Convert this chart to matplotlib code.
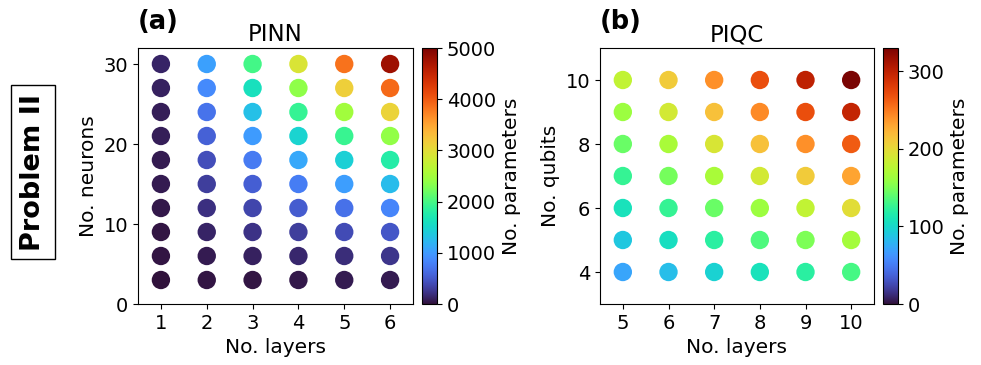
import numpy as np
import matplotlib
matplotlib.use("Agg")
import matplotlib.pyplot as plt

# PINN grid: layers x neurons, colour = number of parameters
pinn_layers = [1, 2, 3, 4, 5, 6]
pinn_neurons = [3, 6, 9, 12, 15, 18, 21, 24, 27, 30]
# rows follow pinn_neurons, columns follow pinn_layers
pinn_params = [
    [13, 25, 37, 49, 61, 73],
    [25, 67, 109, 151, 193, 235],
    [37, 127, 217, 307, 397, 487],
    [49, 205, 361, 517, 673, 829],
    [61, 301, 541, 781, 1021, 1261],
    [73, 415, 757, 1099, 1441, 1783],
    [85, 547, 1009, 1471, 1933, 2395],
    [97, 697, 1297, 1897, 2497, 3097],
    [109, 865, 1621, 2377, 3133, 3889],
    [121, 1051, 1981, 2911, 3841, 4771],
]

# PIQC grid: layers x qubits
piqc_layers = [5, 6, 7, 8, 9, 10]
piqc_qubits = [4, 5, 6, 7, 8, 9, 10]
piqc_params = [
    [72, 84, 96, 108, 120, 132],
    [90, 105, 120, 135, 150, 165],
    [108, 126, 144, 162, 180, 198],
    [126, 147, 168, 189, 210, 231],
    [144, 168, 192, 216, 240, 264],
    [162, 189, 216, 243, 270, 297],
    [180, 210, 240, 270, 300, 330],
]

W, H = 981, 365
fig = plt.figure(figsize=(W / 100, H / 100), dpi=100)


def px(x0, y0, x1, y1):
    # pixel box -> figure fraction rect
    return [x0 / W, 1 - y1 / H, (x1 - x0) / W, (y1 - y0) / H]


def grid_plot(ax, cax, xs, ys, vals, vmax, ylabel, title, tag):
    X, Y = np.meshgrid(xs, ys)
    sc = ax.scatter(X.ravel(), Y.ravel(), c=np.array(vals).ravel(),
                    cmap="turbo", vmin=0, vmax=vmax, s=175, edgecolors="none")
    ax.set_xticks(xs)
    ax.set_xlabel("No. layers", fontsize=14.5)
    ax.set_ylabel(ylabel, fontsize=14.5)
    ax.set_title(title, fontsize=16.5, pad=5)
    ax.tick_params(labelsize=14)
    ax.text(0.0, 1.05, tag, transform=ax.transAxes, fontsize=18.5,
            fontweight="bold", ha="left", va="bottom")
    cb = fig.colorbar(sc, cax=cax)
    cb.set_label("No. parameters", fontsize=14.5)
    cb.ax.tick_params(labelsize=14)
    return cb


ax1 = fig.add_axes(px(138, 48, 413, 304))
cax1 = fig.add_axes(px(422, 48, 437, 304))
grid_plot(ax1, cax1, pinn_layers, pinn_neurons, pinn_params, 5000,
          "No. neurons", "PINN", "(a)")
ax1.set_xlim(0.5, 6.5)
ax1.set_ylim(0, 32)
ax1.set_yticks([0, 10, 20, 30])

ax2 = fig.add_axes(px(600, 48, 874, 304))
cax2 = fig.add_axes(px(883, 48, 898, 304))
grid_plot(ax2, cax2, piqc_layers, piqc_qubits, piqc_params, 330,
          "No. qubits", "PIQC", "(b)")
ax2.set_xlim(4.5, 10.5)
ax2.set_ylim(3, 11)
ax2.set_yticks([4, 6, 8, 10])

fig.text(33 / W, 1 - 172 / H, "Problem II", rotation=90, fontsize=19.5,
         fontweight="bold", ha="center", va="center",
         bbox=dict(boxstyle="square,pad=0.33", facecolor="white",
                   edgecolor="black", linewidth=1))

fig.savefig("out.png", dpi=100)
